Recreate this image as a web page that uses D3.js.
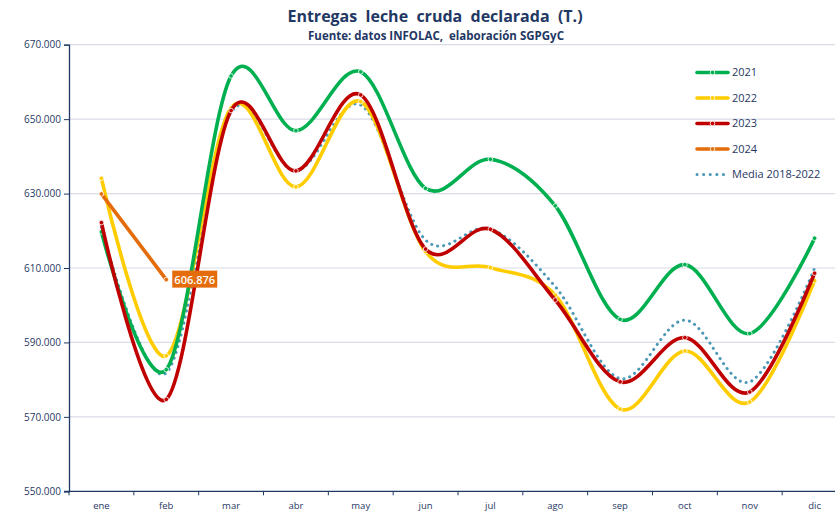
<html>
<head>
<script src="https://d3js.org/d3.v7.min.js"></script>
<style>
body { margin:0; background:#fff; }
text { font-family: "Open Sans", "Noto Sans", sans-serif; white-space: pre; }
</style>
</head>
<body>
<script>
var width = 835;
var height = 511;
var margin = {top:44.7, right:-12, bottom:20, left:69};
var w = width - margin.left - margin.right;
var h = 491.3 - margin.top;

var months = ["ene","feb","mar","abr","may","jun","jul","ago","sep","oct","nov","dic"];
var yTicks = [550000, 570000, 590000, 610000, 630000, 650000, 670000];

var v2021 = [619700, 582700, 661600, 646900, 662700, 631400, 639200, 626700, 596200, 610900, 592400, 618000];
var v2022 = [634100, 586400, 653000, 631800, 654700, 614400, 610100, 602700, 572100, 587700, 574000, 606600];
var v2023 = [622200, 574700, 652300, 636100, 656500, 615100, 620400, 601400, 579400, 591300, 576700, 608600];
var v2024 = [629900, 606876];
var vMedia = [620900, 581800, 651800, 636100, 653800, 617500, 620500, 605000, 580300, 596000, 579400, 609900];

var series = [
  {name:"2021", values:v2021, color:"#00b050"},
  {name:"2022", values:v2022, color:"#ffcc00"},
  {name:"2023", values:v2023, color:"#c00000"},
  {name:"2024", values:v2024, color:"#e46c0a"},
  {name:"Media 2018-2022", values:vMedia, color:"#4a98b6", dotted:true}
];

var navy = "#1f3864";

var x = d3.scalePoint()
    .domain(months)
    .range([0, w])
    .padding(0.5);
var y = d3.scaleLinear()
    .domain([550000, 670000])
    .range([h, 0]);

var svg = d3.select("body").append("svg")
    .attr("width", width)
    .attr("height", height);

// title
svg.append("text").attr("x", 435).attr("y", 22)
    .attr("text-anchor", "middle")
    .attr("fill", navy)
    .style("font-size", "16px")
    .style("font-weight", "bold")
    .text("Entregas  leche  cruda  declarada  (T.)");
svg.append("text").attr("x", 436).attr("y", 40)
    .attr("text-anchor", "middle")
    .attr("fill", navy)
    .style("font-size", "11.5px")
    .style("font-weight", "bold")
    .text("Fuente: datos INFOLAC,  elaboración SGPGyC");

var g = svg.append("g")
    .attr("transform", "translate(" + margin.left + "," + margin.top + ")");

// grid
g.append("g").selectAll("line")
  .data(yTicks.slice(1))
  .enter().append("line")
    .attr("x1", 0).attr("x2", width)
    .attr("y1", function(d){ return y(d); })
    .attr("y2", function(d){ return y(d); })
    .attr("stroke", "#d9dce6")
    .attr("stroke-width", 1.2);

// axes
var yAxis = d3.axisLeft(y).tickValues(yTicks).tickSize(5).tickPadding(3)
    .tickFormat(function(d){ return d3.format(",")(d).replace(/,/g, "."); });
var ya = g.append("g").call(yAxis);
ya.select(".domain").attr("stroke", navy).attr("stroke-width", 1.3);
ya.selectAll(".tick line").attr("stroke", navy);
ya.selectAll("text").attr("fill", navy).style("font-size", "10px");

var xa = g.append("g")
    .attr("transform", "translate(0," + h + ")");
xa.append("line").attr("x1", -5).attr("x2", width).attr("stroke", navy).attr("stroke-width", 1.3);
var step = x.step();
xa.selectAll(".tk")
  .data(d3.range(months.length + 1))
  .enter().append("line")
    .attr("x1", function(i){ return i * step; })
    .attr("x2", function(i){ return i * step; })
    .attr("y1", 0).attr("y2", 4)
    .attr("stroke", navy);
xa.selectAll(".lab")
  .data(months)
  .enter().append("text")
    .attr("x", function(d){ return x(d); })
    .attr("y", 18)
    .attr("text-anchor", "middle")
    .attr("fill", navy)
    .style("font-size", "9.5px")
    .text(function(d){ return d; });

// lines
var line = d3.line()
    .x(function(d, i){ return x(months[i]); })
    .y(function(d){ return y(d); })
    .curve(d3.curveCatmullRom.alpha(0));

var order = [4, 1, 0, 2, 3];
order.forEach(function(k){
  var s = series[k];
  var p = g.append("path")
      .datum(s.values)
      .attr("d", line)
      .attr("fill", "none")
      .attr("stroke", s.color)
      .attr("stroke-linecap", "round");
  if (s.dotted) {
    p.attr("stroke-width", 3).attr("stroke-dasharray", "0.1 6");
  } else {
    p.attr("stroke-width", 3.6);
    g.append("g").selectAll("circle")
      .data(s.values)
      .enter().append("circle")
        .attr("cx", function(d, i){ return x(months[i]); })
        .attr("cy", function(d){ return y(d); })
        .attr("r", 2.3)
        .attr("fill", s.color)
        .attr("stroke", "#fff")
        .attr("stroke-width", 0.8);
  }
});

// data label 2024
var lx = x("feb") + 6, ly = y(v2024[1]);
g.append("rect")
    .attr("x", lx).attr("y", ly - 9)
    .attr("width", 45).attr("height", 17)
    .attr("fill", "#e46c0a");
g.append("text")
    .attr("x", lx + 22.5).attr("y", ly + 4)
    .attr("text-anchor", "middle")
    .attr("fill", "#fff")
    .style("font-size", "11px")
    .style("font-weight", "600")
    .text(d3.format(",")(v2024[1]).replace(/,/g, "."));

// legend
var legend = svg.append("g")
  .selectAll("g")
  .data(series)
  .enter().append("g")
    .attr("transform", function(d, i){ return "translate(697," + (72.5 + i * 25.5) + ")"; });
legend.append("line")
    .attr("x1", 0).attr("x2", 31)
    .attr("stroke", function(d){ return d.color; })
    .attr("stroke-width", function(d){ return d.dotted ? 3 : 3.6; })
    .attr("stroke-linecap", "round")
    .attr("stroke-dasharray", function(d){ return d.dotted ? "0.1 6.5" : null; });
legend.filter(function(d){ return !d.dotted; }).append("circle")
    .attr("cx", 15.5).attr("r", 2.3)
    .attr("fill", function(d){ return d.color; })
    .attr("stroke", "#fff").attr("stroke-width", 0.8);
legend.append("text")
    .attr("x", 35).attr("dy", "0.35em")
    .attr("fill", navy)
    .style("font-size", "11px")
    .text(function(d){ return d.name; });
</script>
</body>
</html>
